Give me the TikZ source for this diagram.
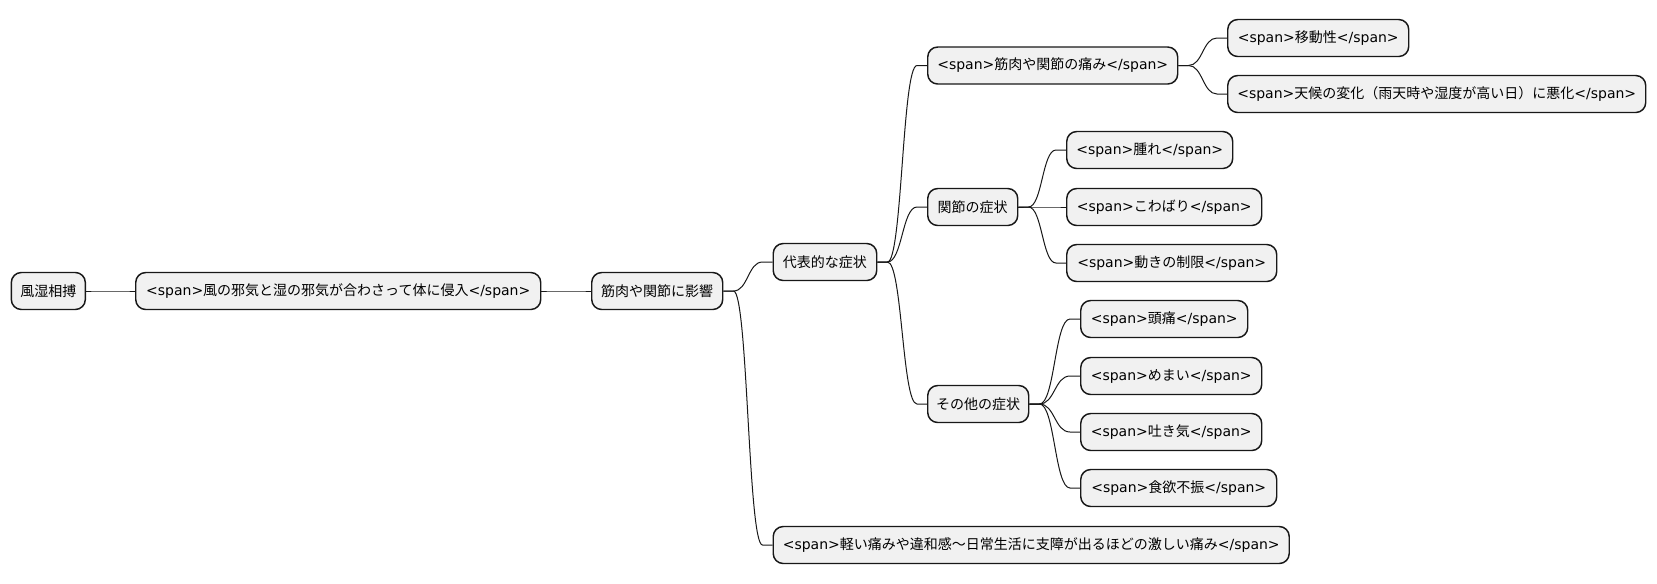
\documentclass[tikz,border=0pt]{standalone}
\usepackage{fontspec}
\setmainfont{Noto Sans CJK JP}
\newfontfamily\lat{DejaVu Sans}
\usetikzlibrary{calc}
\newcommand\spn[1]{{\lat<span>}#1{\lat</span>}}
\definecolor{boxfill}{HTML}{F1F1F1}
\definecolor{boxdraw}{HTML}{181818}
\begin{document}
\begin{tikzpicture}[x=0.75pt,y=-0.75pt,
  box/.style={draw=boxdraw, fill=boxfill, rounded corners=7.5pt, line width=1.1pt,
    minimum height=27.75pt, anchor=west, inner sep=0pt, text=black,
    font=\fontsize{10.5}{12}\selectfont},
  w/.style={minimum width={#1*0.75pt}},
  mm/.style={to path={let \p1=(\tikztostart.east), \p2=(\tikztotarget.west) in
    (\p1) -- (\x1+7.5pt,\y1) .. controls (\x1/2+\x2/2,\y1) and (\x1/2+\x2/2,\y2) .. (\x2-7.5pt,\y2) -- (\p2)}},
  link/.style={draw=boxdraw, line width=0.75pt}
]
\useasboundingbox (0,0) rectangle (1657,583);
\node[box,w=74]  (root)   at (10.6,291) {風湿相搏};
\node[box,w=405] (n2)     at (135,291)  {\spn{風の邪気と湿の邪気が合わさって体に侵入}};
\node[box,w=131] (n3)     at (591,291)  {筋肉や関節に影響};
\node[box,w=103.5] (rep)  at (772.5,262) {代表的な症状};
\node[box,w=250] (pain)   at (927,65.5) {\spn{筋肉や関節の痛み}};
\node[box,w=181] (ido)    at (1227,38)  {\spn{移動性}};
\node[box,w=418] (tenko)  at (1227,94)  {\spn{天候の変化（雨天時や湿度が高い日）に悪化}};
\node[box,w=90]  (kan)    at (927,207)  {関節の症状};
\node[box,w=166] (hare)   at (1066,150) {\spn{腫れ}};
\node[box,w=195] (kowa)   at (1066,207) {\spn{こわばり}};
\node[box,w=210] (ugoki)  at (1066,263) {\spn{動きの制限}};
\node[box,w=101] (sono)   at (927,404)  {その他の症状};
\node[box,w=167] (zutsu)  at (1080,319) {\spn{頭痛}};
\node[box,w=181] (memai)  at (1080,376) {\spn{めまい}};
\node[box,w=181] (haki)   at (1080,432) {\spn{吐き気}};
\node[box,w=196] (shoku)  at (1080,488) {\spn{食欲不振}};
\node[box,w=516] (karui)  at (772.5,545) {\spn{軽い痛みや違和感〜日常生活に支障が出るほどの激しい痛み}};
\draw[link] (root) to[mm] (n2);
\draw[link] (n2) to[mm] (n3);
\draw[link] (n3) to[mm] (rep);
\draw[link] (n3) to[mm] (karui);
\draw[link] (rep) to[mm] (pain);
\draw[link] (rep) to[mm] (kan);
\draw[link] (rep) to[mm] (sono);
\draw[link] (pain) to[mm] (ido);
\draw[link] (pain) to[mm] (tenko);
\draw[link] (kan) to[mm] (hare);
\draw[link] (kan) to[mm] (kowa);
\draw[link] (kan) to[mm] (ugoki);
\draw[link] (sono) to[mm] (zutsu);
\draw[link] (sono) to[mm] (memai);
\draw[link] (sono) to[mm] (haki);
\draw[link] (sono) to[mm] (shoku);
\end{tikzpicture}
\end{document}
